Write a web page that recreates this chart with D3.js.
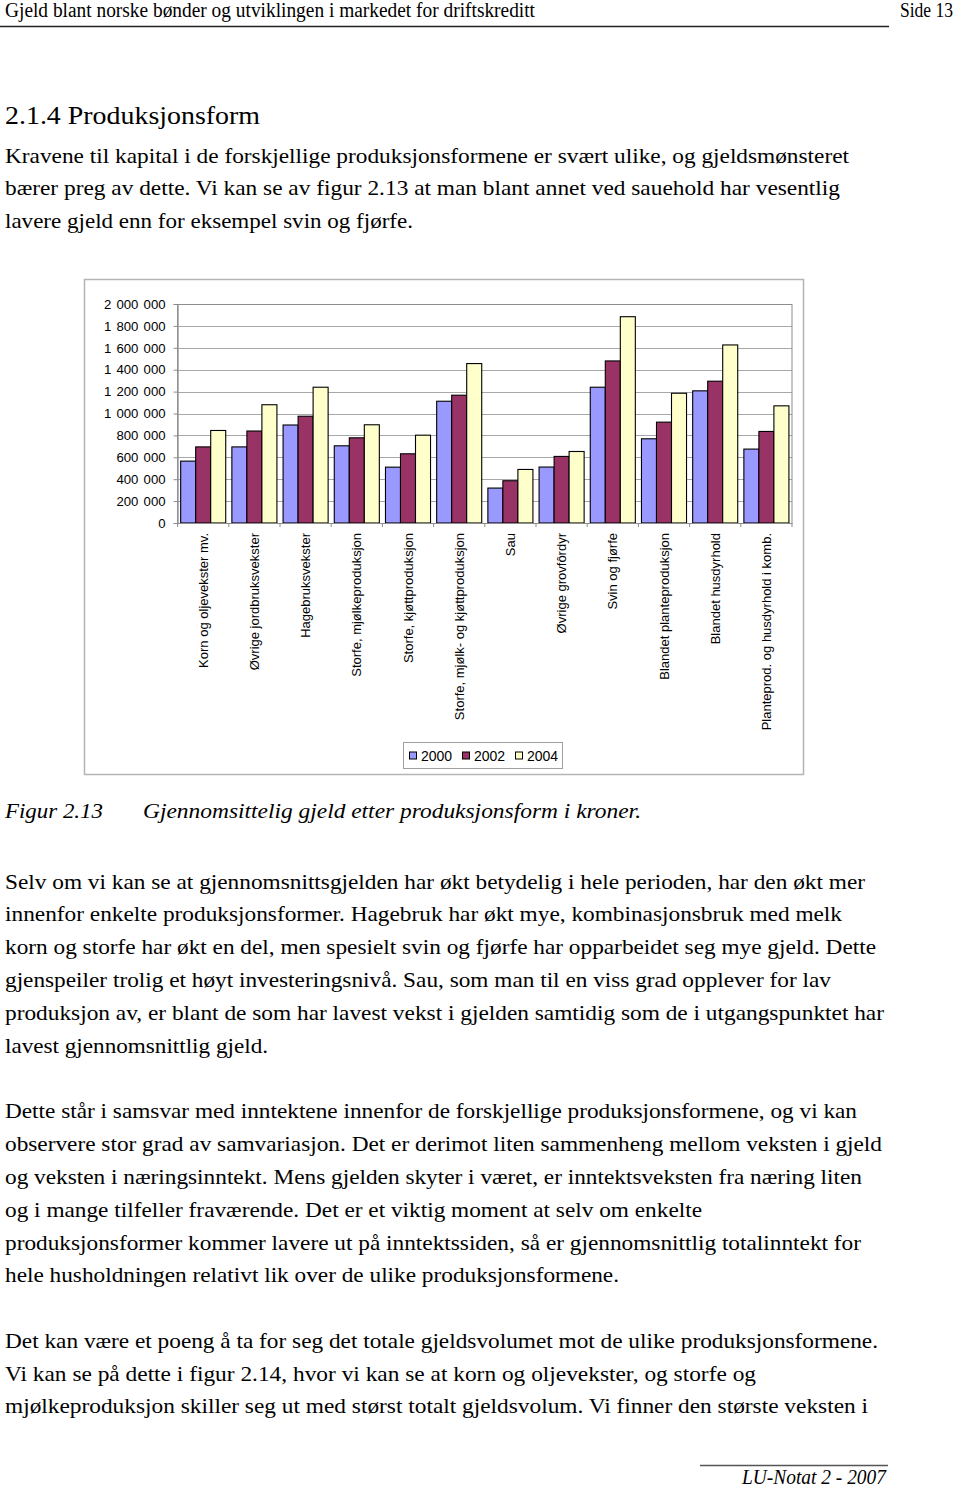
<!DOCTYPE html>
<html>
<head>
<meta charset="utf-8">
<script src="https://cdn.jsdelivr.net/npm/d3@7"></script>
<style>
    body { margin: 0; background: #fff; }
    svg { display: block; }
    .serif { font-family: "Liberation Serif", "Times New Roman", serif; fill: #000; }
    .sans { font-family: "Liberation Sans", Arial, sans-serif; fill: #000; }
</style>
</head>
<body>
<svg id="page" width="960" height="1490"></svg>
<script>
// kategorier (produksjonsform)
var categories = [
    "Korn og oljevekster mv.",
    "Øvrige jordbruksvekster",
    "Hagebruksvekster",
    "Storfe, mjølkeproduksjon",
    "Storfe, kjøttproduksjon",
    "Storfe, mjølk- og kjøttproduksjon",
    "Sau",
    "Øvrige grovfôrdyr",
    "Svin og fjørfe",
    "Blandet planteproduksjon",
    "Blandet husdyrhold",
    "Planteprod. og husdyrhold i komb."
];

var years = ["2000", "2002", "2004"];

// gjennomsnittlig gjeld i kroner, lest av figuren
var debt2000 = [565000, 695000, 895000, 705000, 510000, 1112000, 319000, 511000, 1240000, 769000, 1207000, 675000];
var debt2002 = [695000, 840000, 975000, 778000, 632000, 1167000, 386000, 608000, 1480000, 921000, 1295000, 836000];
var debt2004 = [845000, 1080000, 1240000, 897000, 802000, 1456000, 489000, 653000, 1884000, 1185000, 1626000, 1070000];

var yTicks = [0, 200000, 400000, 600000, 800000, 1000000, 1200000, 1400000, 1600000, 1800000, 2000000];

var colors = ["#9999ff", "#993366", "#ffffcc"];

// tekst på siden: [tekst, y (grunnlinje), høyre kant]
var para1 = [
    ["Kravene til kapital i de forskjellige produksjonsformene er svært ulike, og gjeldsmønsteret", 163, 849],
    ["bærer preg av dette. Vi kan se av figur 2.13 at man blant annet ved sauehold har vesentlig", 195, 840],
    ["lavere gjeld enn for eksempel svin og fjørfe.", 228, 413]
];
var para2 = [
    ["Selv om vi kan se at gjennomsnittsgjelden har økt betydelig i hele perioden, har den økt mer", 889, 865],
    ["innenfor enkelte produksjonsformer. Hagebruk har økt mye, kombinasjonsbruk med melk", 921, 842],
    ["korn og storfe har økt en del, men spesielt svin og fjørfe har opparbeidet seg mye gjeld. Dette", 954, 876],
    ["gjenspeiler trolig et høyt investeringsnivå. Sau, som man til en viss grad opplever for lav", 987, 831],
    ["produksjon av, er blant de som har lavest vekst i gjelden samtidig som de i utgangspunktet har", 1020, 884],
    ["lavest gjennomsnittlig gjeld.", 1053, 268]
];
var para3 = [
    ["Dette står i samsvar med inntektene innenfor de forskjellige produksjonsformene, og vi kan", 1118, 857],
    ["observere stor grad av samvariasjon. Det er derimot liten sammenheng mellom veksten i gjeld", 1151, 882],
    ["og veksten i næringsinntekt. Mens gjelden skyter i været, er inntektsveksten fra næring liten", 1184, 862],
    ["og i mange tilfeller fraværende. Det er et viktig moment at selv om enkelte", 1217, 702],
    ["produksjonsformer kommer lavere ut på inntektssiden, så er gjennomsnittlig totalinntekt for", 1250, 861],
    ["hele husholdningen relativt lik over de ulike produksjonsformene.", 1282, 619]
];
var para4 = [
    ["Det kan være et poeng å ta for seg det totale gjeldsvolumet mot de ulike produksjonsformene.", 1348, 878],
    ["Vi kan se på dette i figur 2.14, hvor vi kan se at korn og oljevekster, og storfe og", 1381, 756],
    ["mjølkeproduksjon skiller seg ut med størst totalt gjeldsvolum. Vi finner den største veksten i", 1413, 868]
];

var svg = d3.select("#page");

svg.append("rect").attr("width", 960).attr("height", 1490).attr("fill", "#fff");

// topptekst
svg.append("text").attr("class", "serif")
    .attr("x", 5).attr("y", 17)
    .attr("font-size", 20)
    .attr("textLength", 530).attr("lengthAdjust", "spacingAndGlyphs")
    .text("Gjeld blant norske bønder og utviklingen i markedet for driftskreditt");

svg.append("text").attr("class", "serif")
    .attr("x", 900).attr("y", 17)
    .attr("font-size", 20)
    .attr("textLength", 53).attr("lengthAdjust", "spacingAndGlyphs")
    .text("Side 13");

svg.append("line")
    .attr("x1", 0).attr("x2", 889).attr("y1", 26.5).attr("y2", 26.5)
    .attr("stroke", "#222").attr("stroke-width", 1.3);

svg.append("text").attr("class", "serif")
    .attr("x", 5).attr("y", 124)
    .attr("font-size", 25)
    .attr("textLength", 255).attr("lengthAdjust", "spacingAndGlyphs")
    .text("2.1.4  Produksjonsform");

function writeLines(lines) {
    svg.selectAll(null)
        .data(lines)
        .enter()
        .append("text")
        .attr("class", "serif")
        .attr("x", 5)
        .attr("y", d => d[1])
        .attr("font-size", 21)
        .attr("textLength", d => d[2] - 5)
        .attr("lengthAdjust", "spacingAndGlyphs")
        .text(d => d[0]);
}

writeLines(para1);
writeLines(para2);
writeLines(para3);
writeLines(para4);

// figurtekst
svg.append("text").attr("class", "serif")
    .attr("x", 5).attr("y", 818)
    .attr("font-size", 21).attr("font-style", "italic")
    .attr("textLength", 98).attr("lengthAdjust", "spacingAndGlyphs")
    .text("Figur 2.13");

svg.append("text").attr("class", "serif")
    .attr("x", 143).attr("y", 818)
    .attr("font-size", 21).attr("font-style", "italic")
    .attr("textLength", 498).attr("lengthAdjust", "spacingAndGlyphs")
    .text("Gjennomsittelig gjeld etter produksjonsform i kroner.");

// bunntekst
svg.append("line")
    .attr("x1", 700).attr("x2", 888).attr("y1", 1465.5).attr("y2", 1465.5)
    .attr("stroke", "#555").attr("stroke-width", 1.3);

svg.append("text").attr("class", "serif")
    .attr("x", 742).attr("y", 1484)
    .attr("font-size", 20).attr("font-style", "italic")
    .attr("textLength", 144).attr("lengthAdjust", "spacingAndGlyphs")
    .text("LU-Notat 2 - 2007");

// ---- diagrammet ----
var frame = {left: 84, top: 279, right: 803, bottom: 774};
var plot = {left: 177.6, right: 792, top: 304, bottom: 523};

svg.append("rect")
    .attr("x", frame.left + 0.5).attr("y", frame.top + 0.5)
    .attr("width", frame.right - frame.left).attr("height", frame.bottom - frame.top)
    .attr("fill", "#fff").attr("stroke", "#b4b4b4").attr("stroke-width", 1.5);

var x = d3.scaleBand()
    .domain(categories)
    .range([plot.left, plot.right])
    .paddingInner(0.12)
    .paddingOuter(0.06);

var xs = d3.scaleBand()
    .domain(years)
    .range([0, x.bandwidth()]);

var y = d3.scaleLinear()
    .domain([0, 2000000])
    .range([plot.bottom, plot.top]);

var nb = d3.formatLocale({decimal: ",", thousands: "\u00a0", grouping: [3], currency: ["", " kr"]});
var fmt = nb.format(",d");

// rutenett
svg.append("g")
    .selectAll("line")
    .data(yTicks.filter(d => d > 0))
    .enter()
    .append("line")
    .attr("x1", plot.left).attr("x2", plot.right)
    .attr("y1", d => Math.round(y(d)) + 0.5)
    .attr("y2", d => Math.round(y(d)) + 0.5)
    .attr("stroke", "#a8a8a8");

// ramme rundt plottområdet
svg.append("rect")
    .attr("x", plot.left).attr("y", Math.round(plot.top) + 0.5)
    .attr("width", plot.right - plot.left).attr("height", plot.bottom - plot.top)
    .attr("fill", "none").attr("stroke", "#8c8c8c");

// søyler
var series = years.map(function(yr, i) {
    var vals = [debt2000, debt2002, debt2004][i];
    return {year: yr, color: colors[i], values: categories.map((c, j) => ({cat: c, value: vals[j]}))};
});

svg.append("g")
    .selectAll("g")
    .data(series)
    .enter()
    .append("g")
    .attr("fill", d => d.color)
    .each(function(s) {
        d3.select(this)
            .selectAll("rect")
            .data(s.values)
            .enter()
            .append("rect")
            .attr("x", d => x(d.cat) + xs(s.year))
            .attr("y", d => y(d.value))
            .attr("width", xs.bandwidth())
            .attr("height", d => y(0) - y(d.value))
            .attr("stroke", "#000")
            .attr("stroke-width", 1.1);
    });

// y-akse
var yAxis = svg.append("g")
    .attr("transform", "translate(" + plot.left + ",0)")
    .call(d3.axisLeft(y).tickValues(yTicks).tickFormat(fmt).tickSize(4).tickPadding(8));

yAxis.select(".domain").attr("stroke", "#8c8c8c");
yAxis.selectAll(".tick line").attr("stroke", "#8c8c8c");
yAxis.selectAll(".tick text")
    .attr("class", "sans")
    .attr("font-size", 13.2)
    .style("word-spacing", "1.5px")
    .attr("fill", "#000");
yAxis.attr("font-family", null);

// x-akse: streker på kategorigrensene
var bounds = categories.map(c => x(c) - x.step() * x.paddingInner() / 2).concat([plot.right]);
bounds[0] = plot.left;

svg.append("line")
    .attr("x1", plot.left).attr("x2", plot.right)
    .attr("y1", plot.bottom + 0.5).attr("y2", plot.bottom + 0.5)
    .attr("stroke", "#8c8c8c");

svg.append("g")
    .selectAll("line")
    .data(bounds)
    .enter()
    .append("line")
    .attr("x1", d => d).attr("x2", d => d)
    .attr("y1", plot.bottom).attr("y2", plot.bottom + 4)
    .attr("stroke", "#8c8c8c");

svg.append("g")
    .selectAll("text")
    .data(categories)
    .enter()
    .append("text")
    .attr("class", "sans")
    .attr("font-size", 13)
    .attr("text-anchor", "end")
    .attr("transform", d => "translate(" + (x(d) + x.bandwidth() / 2) + "," + (plot.bottom + 10) + ") rotate(-90)")
    .attr("dy", "0.35em")
    .text(d => d);

// forklaring
var legend = svg.append("g");

legend.append("rect")
    .attr("x", 403.5).attr("y", 742.5)
    .attr("width", 159).attr("height", 26)
    .attr("fill", "#fff").attr("stroke", "#a0a0a0");

var items = legend.selectAll("g")
    .data(series)
    .enter()
    .append("g")
    .attr("transform", (d, i) => "translate(" + (409 + i * 53) + ",755.5)");

items.append("rect")
    .attr("x", 0.5).attr("y", -3.5)
    .attr("width", 7).attr("height", 7)
    .attr("fill", d => d.color)
    .attr("stroke", "#000");

items.append("text")
    .attr("class", "sans")
    .attr("x", 12)
    .attr("dy", "0.36em")
    .attr("font-size", 14)
    .text(d => d.year);
</script>
</body>
</html>
